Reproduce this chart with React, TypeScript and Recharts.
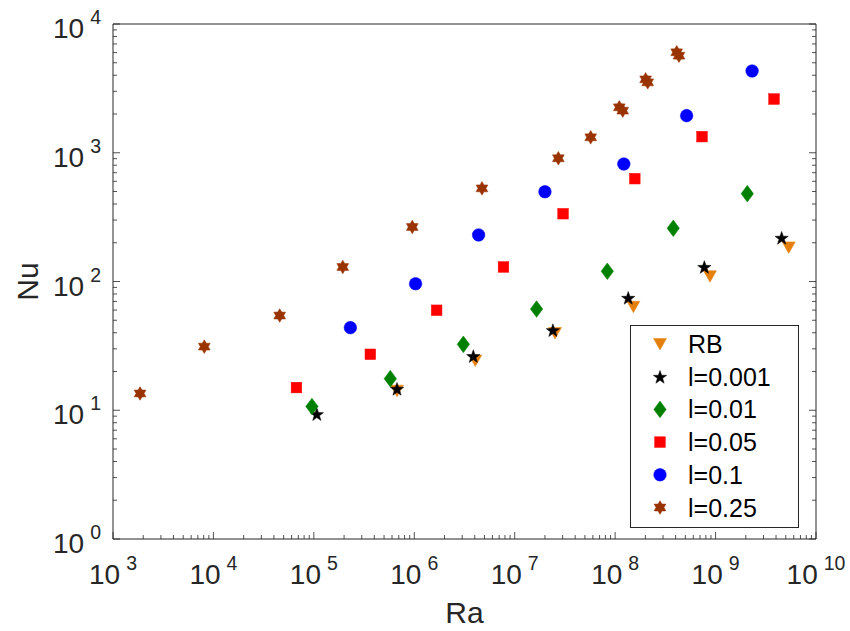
import React from "react";
import { ScatterChart, Scatter, XAxis, YAxis, Legend } from "recharts";

if (typeof document !== "undefined") document.body.style.margin = "0";

const FONT = "'Liberation Sans', Arial, Helvetica, sans-serif";
const INK = "#262626";

// axis decades and minor multipliers
const xDecades = [3, 4, 5, 6, 7, 8, 9, 10];
const yDecades = [0, 1, 2, 3, 4];
const minorSteps = [2, 3, 4, 5, 6, 7, 8, 9];

// series values
const rbRa = [6.73e5, 4.05e6, 2.52e7, 1.52e8, 8.79e8, 5.35e9];
const rbNu = [14.2, 24.3, 39.8, 63.7, 110, 184];

const l001Ra = [1.07e5, 6.73e5, 3.87e6, 2.4e7, 1.35e8, 7.73e8, 4.55e9];
const l001Nu = [9.35, 14.7, 26.4, 42.0, 74.8, 130, 219];

const l01Ra = [9.57e4, 5.77e5, 3.08e6, 1.65e7, 8.36e7, 3.79e8, 2.07e9];
const l01Nu = [10.7, 17.6, 32.5, 61.1, 120, 259, 481];

const l05Ra = [6.71e4, 3.65e5, 1.67e6, 7.73e6, 3.03e7, 1.57e8, 7.33e8, 3.82e9];
const l05Nu = [15.0, 27.2, 59.8, 129.7, 336, 629, 1334, 2613];

const l1Ra = [2.31e5, 1.03e6, 4.37e6, 2.0e7, 1.22e8, 5.15e8, 2.31e9];
const l1Nu = [43.8, 96.1, 230, 498, 818, 1941, 4315];

const l25Ra = [1860, 8110, 4.57e4, 1.94e5, 9.55e5, 4.72e6, 2.72e7, 5.71e7, 1.1e8, 1.19e8, 2.01e8, 2.11e8, 4.1e8, 4.32e8];
const l25Nu = [13.5, 31.2, 54.4, 129.6, 265, 529, 906, 1318, 2255, 2123, 3715, 3524, 6030, 5675];

const zip = (ra: number[], nu: number[]) => ra.map((r, i) => ({ ra: r, nu: nu[i] }));

type Kind = "tri" | "penta" | "diamond" | "square" | "circle" | "hexa";

const series: { name: string; kind: Kind; color: string; data: { ra: number; nu: number }[] }[] = [
  { name: "RB", kind: "tri", color: "#e5800f", data: zip(rbRa, rbNu) },
  { name: "l=0.001", kind: "penta", color: "#000000", data: zip(l001Ra, l001Nu) },
  { name: "l=0.01", kind: "diamond", color: "#008000", data: zip(l01Ra, l01Nu) },
  { name: "l=0.05", kind: "square", color: "#ff0000", data: zip(l05Ra, l05Nu) },
  { name: "l=0.1", kind: "circle", color: "#0000ff", data: zip(l1Ra, l1Nu) },
  { name: "l=0.25", kind: "hexa", color: "#993300", data: zip(l25Ra, l25Nu) },
];

const withMinors = (decades: number[]) => {
  const out: number[] = [];
  decades.forEach((d, i) => {
    out.push(Math.pow(10, d));
    if (i < decades.length - 1) minorSteps.forEach((m) => out.push(m * Math.pow(10, d)));
  });
  return out;
};
const xTicks = withMinors(xDecades);
const yTicks = withMinors(yDecades);

const isMajor = (v: number) => {
  const e = Math.log10(v);
  return Math.abs(e - Math.round(e)) < 1e-6;
};
const MAJOR = 7;
const MINOR = 4;

function starPoints(cx: number, cy: number, n: number, ro: number, ri: number) {
  const pts: string[] = [];
  for (let i = 0; i < 2 * n; i++) {
    const a = -Math.PI / 2 + (i * Math.PI) / n;
    const r = i % 2 === 0 ? ro : ri;
    pts.push(`${cx + r * Math.cos(a)},${cy + r * Math.sin(a)}`);
  }
  return pts.join(" ");
}

function Marker({ kind, color, cx, cy }: { kind: Kind; color: string; cx: number; cy: number }) {
  const common = { fill: color, stroke: color, strokeWidth: 0.5 };
  switch (kind) {
    case "tri":
      return <polygon {...common} points={`${cx - 6.5},${cy - 5.5} ${cx + 6.5},${cy - 5.5} ${cx},${cy + 6}`} />;
    case "penta":
      return <polygon {...common} points={starPoints(cx, cy + 0.8, 5, 7, 2.8)} />;
    case "diamond":
      return <polygon {...common} points={`${cx},${cy - 8.3} ${cx + 6.2},${cy} ${cx},${cy + 8.3} ${cx - 6.2},${cy}`} />;
    case "square":
      return <rect {...common} x={cx - 5.3} y={cy - 5.3} width={10.6} height={10.6} />;
    case "circle":
      return <circle {...common} cx={cx} cy={cy} r={6.3} />;
    default:
      return <polygon {...common} points={starPoints(cx, cy, 6, 6.8, 4)} />;
  }
}

const BottomTick = ({ x, y, payload }: any) => {
  const v = payload.value;
  const major = isMajor(v);
  return (
    <g>
      <line x1={x} x2={x} y1={y} y2={y - (major ? MAJOR : MINOR)} stroke={INK} strokeWidth={0.8} />
      {major && (
        <text x={x} y={y + 45} textAnchor="middle" fill={INK} fontSize={28} fontFamily={FONT}>
          10
          <tspan dx={6} dy={-14} fontSize={19.5}>
            {Math.round(Math.log10(v))}
          </tspan>
        </text>
      )}
    </g>
  );
};

const TopTick = ({ x, y, payload }: any) => (
  <line x1={x} x2={x} y1={y} y2={y + (isMajor(payload.value) ? MAJOR : MINOR)} stroke={INK} strokeWidth={0.8} />
);

const LeftTick = ({ x, y, payload }: any) => {
  const v = payload.value;
  const major = isMajor(v);
  return (
    <g>
      <line x1={x} x2={x + (major ? MAJOR : MINOR)} y1={y} y2={y} stroke={INK} strokeWidth={0.8} />
      {major && (
        <text x={x - 12} y={y + 14} textAnchor="end" fill={INK} fontSize={28} fontFamily={FONT}>
          10
          <tspan dx={6} dy={-14} fontSize={19.5}>
            {Math.round(Math.log10(v))}
          </tspan>
        </text>
      )}
    </g>
  );
};

const RightTick = ({ x, y, payload }: any) => (
  <line x1={x} x2={x - (isMajor(payload.value) ? MAJOR : MINOR)} y1={y} y2={y} stroke={INK} strokeWidth={0.8} />
);

const LegendBox = () => {
  const w = 169;
  const h = 203;
  return (
    <svg width={w} height={h} style={{ display: "block" }}>
      <rect x={0.5} y={0.5} width={w - 1} height={h - 1} fill="#ffffff" stroke={INK} strokeWidth={1} />
      {series.map((s, i) => {
        const cy = 19 + i * 32.7;
        return (
          <g key={s.name}>
            <Marker kind={s.kind} color={s.color} cx={30} cy={cy} />
            <text x={58} y={cy + 9} fontSize={25} fontFamily={FONT} fill="#000000">
              {s.name}
            </text>
          </g>
        );
      })}
    </svg>
  );
};

export default function App() {
  return (
    <ScatterChart width={850} height={631} margin={{ top: 0, right: 0, bottom: 0, left: 0 }} style={{ fontFamily: FONT }}>
      <XAxis
        xAxisId={0}
        dataKey="ra"
        type="number"
        scale="log"
        domain={[1e3, 1e10]}
        allowDataOverflow
        ticks={xTicks}
        interval={0}
        tickLine={false}
        tickSize={0}
        tickMargin={0}
        tick={<BottomTick />}
        height={92}
        axisLine={{ stroke: INK, strokeWidth: 1 }}
        label={{
          content: ({ viewBox }: any) => (
            <text x={viewBox.x + viewBox.width / 2} y={viewBox.y + 84} textAnchor="middle" fontSize={30} fontFamily={FONT} fill={INK}>
              Ra
            </text>
          ),
        }}
      />
      <XAxis
        xAxisId="top"
        orientation="top"
        type="number"
        scale="log"
        domain={[1e3, 1e10]}
        allowDataOverflow
        ticks={xTicks}
        interval={0}
        tickLine={false}
        tickSize={0}
        tickMargin={0}
        tick={<TopTick />}
        height={24}
        axisLine={{ stroke: INK, strokeWidth: 1 }}
      />
      <YAxis
        yAxisId={0}
        dataKey="nu"
        type="number"
        scale="log"
        domain={[1, 1e4]}
        allowDataOverflow
        ticks={yTicks}
        interval={0}
        tickLine={false}
        tickSize={0}
        tickMargin={0}
        tick={<LeftTick />}
        width={113}
        axisLine={{ stroke: INK, strokeWidth: 1 }}
        label={{
          content: ({ viewBox }: any) => {
            const cx = 38;
            const cy = viewBox.y + viewBox.height / 2;
            return (
              <text x={cx} y={cy} transform={`rotate(-90 ${cx} ${cy})`} textAnchor="middle" fontSize={30} fontFamily={FONT} fill={INK}>
                Nu
              </text>
            );
          },
        }}
      />
      <YAxis
        yAxisId="right"
        orientation="right"
        type="number"
        scale="log"
        domain={[1, 1e4]}
        allowDataOverflow
        ticks={yTicks}
        interval={0}
        tickLine={false}
        tickSize={0}
        tickMargin={0}
        tick={<RightTick />}
        width={34}
        axisLine={{ stroke: INK, strokeWidth: 1 }}
      />
      {series.map((s) => (
        <Scatter
          key={s.name}
          name={s.name}
          data={s.data}
          xAxisId={0}
          yAxisId={0}
          isAnimationActive={false}
          shape={(p: any) => <Marker kind={s.kind} color={s.color} cx={p.cx} cy={p.cy} />}
        />
      ))}
      <Legend
        layout="horizontal"
        align="center"
        verticalAlign="middle"
        content={() => <LegendBox />}
        wrapperStyle={{ left: 630, top: 325, width: 169, height: 203 }}
      />
    </ScatterChart>
  );
}
